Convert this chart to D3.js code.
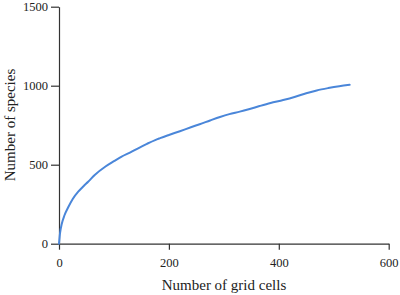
<!DOCTYPE html>
<html>
<head>
<meta charset="utf-8">
<script src="https://cdn.jsdelivr.net/npm/d3@7"></script>
<style>
html,body{margin:0;padding:0;background:#fff;}
svg{display:block;}
</style>
</head>
<body>
<svg id="chart" width="400" height="295"></svg>
<script>
const gridCells = [0,2,5,10,17,25,35,45,53,65,84,100,114,130,144,160,175,184,200,220,240,256,275,293,310,329,347,365,385,408,430,450,469,490,510,529];
const species   = [0,70,125,180,232,283,329,365,392,435,487,522,551,578,604,632,656,668,688,712,737,756,780,802,820,836,853,871,890,909,930,952,970,985,997,1006];
const xTicks = [0,200,400,600];
const yTicks = [0,500,1000,1500];
const xTitle = "Number of grid cells";
const yTitle = "Number of species";

const svg = d3.select("#chart");
const font = "'Liberation Serif','Times New Roman',serif";
const x = d3.scaleLinear().domain([0,600]).range([59,388.7]);
const y = d3.scaleLinear().domain([0,1500]).range([243.7,6.7]);
const axisColor = "#333";

const gx = svg.append("g").attr("transform","translate(0,243.7)")
  .call(d3.axisBottom(x).tickValues(xTicks).tickFormat(d3.format("d")).tickSize(6).tickPadding(8).tickSizeOuter(0));
const gy = svg.append("g").attr("transform","translate(59,0)")
  .call(d3.axisLeft(y).tickValues(yTicks).tickFormat(d3.format("d")).tickSize(8).tickPadding(3).tickSizeOuter(0));
[gx,gy].forEach(g=>{
  g.attr("font-family",font).attr("font-size",12.5);
  g.select(".domain").attr("stroke",axisColor).attr("stroke-width",1.2);
  g.selectAll(".tick line").attr("stroke",axisColor).attr("stroke-width",1.2);
  g.selectAll(".tick text").attr("fill","#222").attr("font-family",font).attr("font-size",12.5);
});

const pts = gridCells.map((c,i)=>[c,species[i]]);
svg.append("path").datum(pts)
  .attr("fill","none").attr("stroke","#4a86d9").attr("stroke-width",2)
  .attr("stroke-linejoin","round").attr("stroke-linecap","round")
  .attr("d", d3.line().x(d=>x(d[0])).y(d=>y(d[1])).curve(d3.curveMonotoneX));

svg.append("text").attr("x",224).attr("y",290).attr("text-anchor","middle")
  .attr("font-family",font).attr("font-size",15).attr("fill","#222").text(xTitle);
svg.append("text").attr("transform","translate(15,125) rotate(-90)").attr("text-anchor","middle")
  .attr("font-family",font).attr("font-size",15).attr("fill","#222").text(yTitle);
</script>
</body>
</html>
